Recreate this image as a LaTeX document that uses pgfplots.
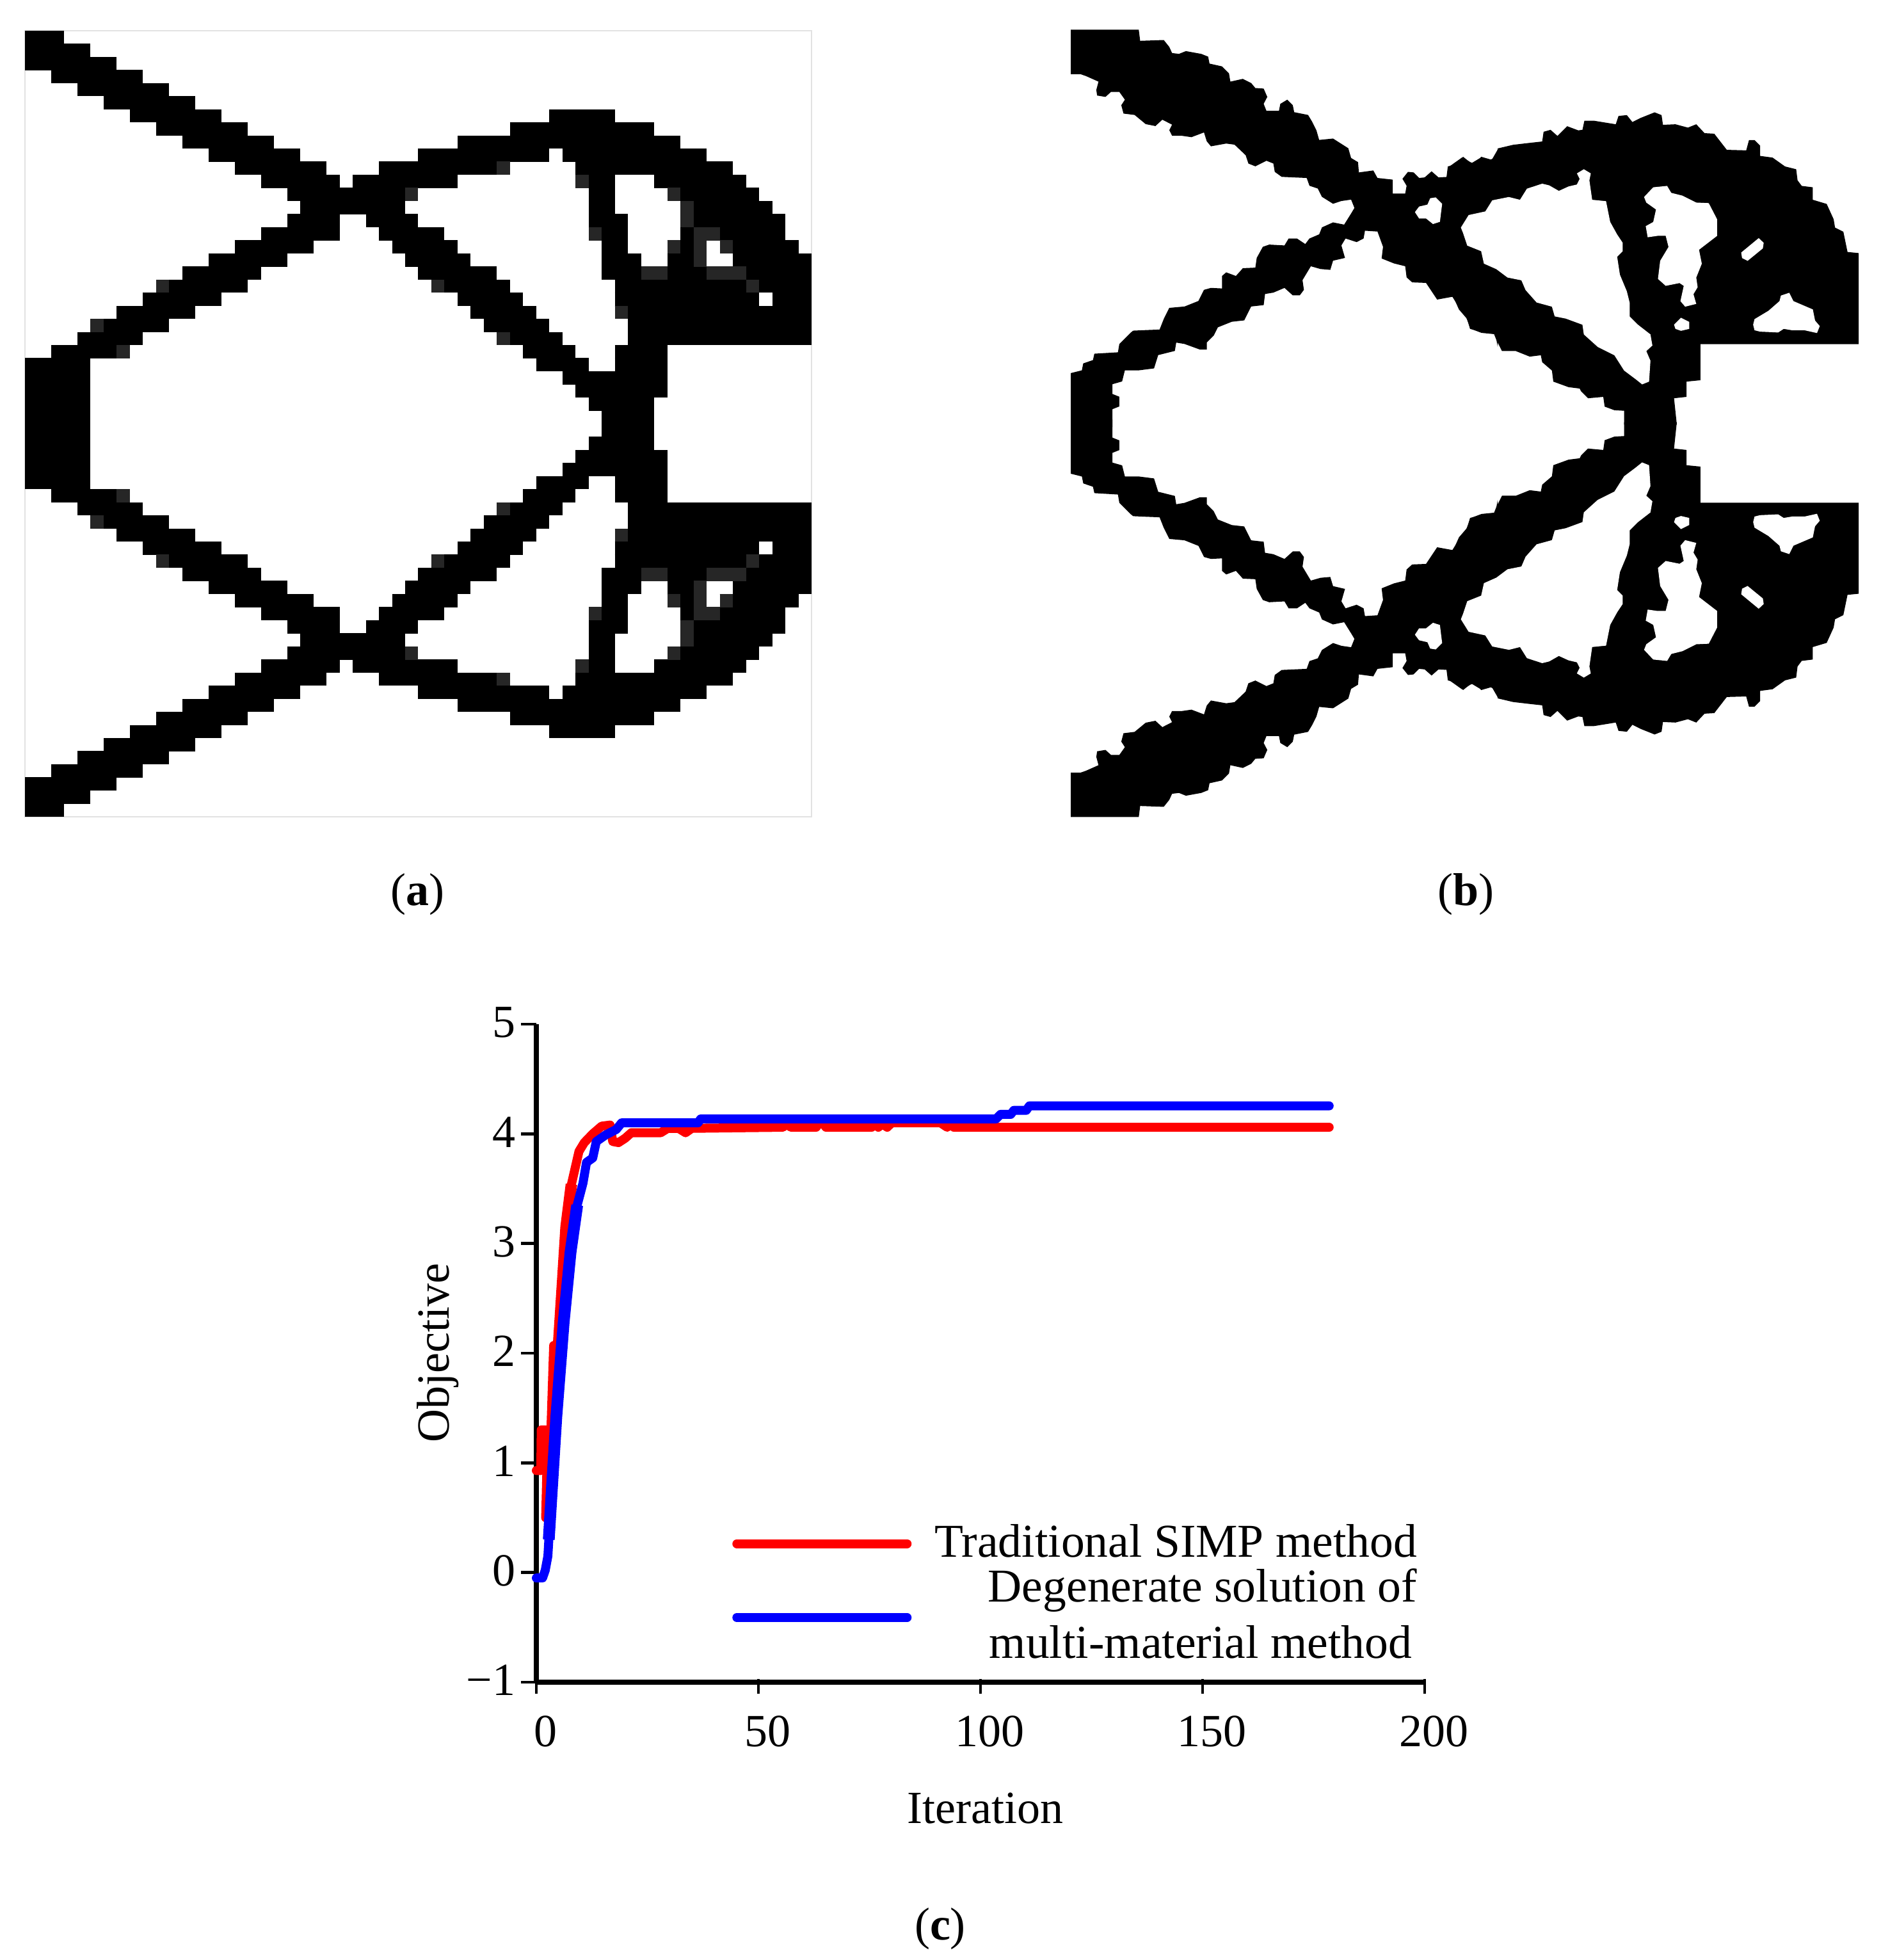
\documentclass[border=0pt]{standalone}
\usepackage{fontspec}
\setmainfont{Liberation Serif}
\usepackage{pgfplots}
\usepackage{pgfplotstable}
\pgfplotsset{compat=1.18}
\definecolor{framegray}{HTML}{E2E2E2}

% Panel (a): runs of black cells per row of the 60 x 60 grid (top half; the bottom half mirrors it)
\pgfplotstableread[row sep=\\]{
x y\\
0 .5\\3 .5\\nan .5\\
0 1.5\\5 1.5\\nan 1.5\\
0 2.5\\7 2.5\\nan 2.5\\
2 3.5\\9 3.5\\nan 3.5\\
4 4.5\\11 4.5\\nan 4.5\\
6 5.5\\13 5.5\\nan 5.5\\
8 6.5\\15 6.5\\nan 6.5\\
40 6.5\\45 6.5\\nan 6.5\\
10 7.5\\17 7.5\\nan 7.5\\
37 7.5\\48 7.5\\nan 7.5\\
12 8.5\\19 8.5\\nan 8.5\\
33 8.5\\50 8.5\\nan 8.5\\
14 9.5\\21 9.5\\nan 9.5\\
30 9.5\\40 9.5\\nan 9.5\\
41 9.5\\52 9.5\\nan 9.5\\
16 10.5\\23 10.5\\nan 10.5\\
27 10.5\\37 10.5\\nan 10.5\\
42 10.5\\54 10.5\\nan 10.5\\
18 11.5\\24 11.5\\nan 11.5\\
25 11.5\\33 11.5\\nan 11.5\\
42 11.5\\45 11.5\\nan 11.5\\
48 11.5\\55 11.5\\nan 11.5\\
20 12.5\\30 12.5\\nan 12.5\\
43 12.5\\45 12.5\\nan 12.5\\
49 12.5\\56 12.5\\nan 12.5\\
21 13.5\\29 13.5\\nan 13.5\\
43 13.5\\45 13.5\\nan 13.5\\
50 13.5\\57 13.5\\nan 13.5\\
20 14.5\\24 14.5\\nan 14.5\\
26 14.5\\30 14.5\\nan 14.5\\
43 14.5\\46 14.5\\nan 14.5\\
50 14.5\\58 14.5\\nan 14.5\\
18 15.5\\24 15.5\\nan 15.5\\
27 15.5\\32 15.5\\nan 15.5\\
43 15.5\\46 15.5\\nan 15.5\\
50 15.5\\58 15.5\\nan 15.5\\
16 16.5\\22 16.5\\nan 16.5\\
28 16.5\\33 16.5\\nan 16.5\\
44 16.5\\46 16.5\\nan 16.5\\
49 16.5\\52 16.5\\nan 16.5\\
53 16.5\\59 16.5\\nan 16.5\\
14 17.5\\20 17.5\\nan 17.5\\
29 17.5\\34 17.5\\nan 17.5\\
44 17.5\\47 17.5\\nan 17.5\\
49 17.5\\52 17.5\\nan 17.5\\
54 17.5\\60 17.5\\nan 17.5\\
12 18.5\\18 18.5\\nan 18.5\\
30 18.5\\36 18.5\\nan 18.5\\
44 18.5\\60 18.5\\nan 18.5\\
10 19.5\\17 19.5\\nan 19.5\\
31 19.5\\37 19.5\\nan 19.5\\
45 19.5\\60 19.5\\nan 19.5\\
9 20.5\\15 20.5\\nan 20.5\\
33 20.5\\38 20.5\\nan 20.5\\
45 20.5\\56 20.5\\nan 20.5\\
57 20.5\\60 20.5\\nan 20.5\\
7 21.5\\13 21.5\\nan 21.5\\
34 21.5\\39 21.5\\nan 21.5\\
45 21.5\\60 21.5\\nan 21.5\\
5 22.5\\11 22.5\\nan 22.5\\
35 22.5\\40 22.5\\nan 22.5\\
46 22.5\\60 22.5\\nan 22.5\\
4 23.5\\9 23.5\\nan 23.5\\
36 23.5\\41 23.5\\nan 23.5\\
46 23.5\\60 23.5\\nan 23.5\\
2 24.5\\8 24.5\\nan 24.5\\
38 24.5\\42 24.5\\nan 24.5\\
45 24.5\\49 24.5\\nan 24.5\\
0 25.5\\5 25.5\\nan 25.5\\
39 25.5\\43 25.5\\nan 25.5\\
45 25.5\\49 25.5\\nan 25.5\\
0 26.5\\5 26.5\\nan 26.5\\
41 26.5\\49 26.5\\nan 26.5\\
0 27.5\\5 27.5\\nan 27.5\\
42 27.5\\49 27.5\\nan 27.5\\
0 28.5\\5 28.5\\nan 28.5\\
43 28.5\\48 28.5\\nan 28.5\\
0 29.5\\5 29.5\\nan 29.5\\
44 29.5\\48 29.5\\nan 29.5\\
}\cellsA
\pgfplotstableread[row sep=\\]{
x y\\
36 10.5\\37 10.5\\nan 10.5\\
42 11.5\\43 11.5\\nan 11.5\\
29 12.5\\30 12.5\\nan 12.5\\
49 12.5\\50 12.5\\nan 12.5\\
50 13.5\\51 13.5\\nan 13.5\\
50 14.5\\51 14.5\\nan 14.5\\
43 15.5\\44 15.5\\nan 15.5\\
51 15.5\\53 15.5\\nan 15.5\\
49 16.5\\50 16.5\\nan 16.5\\
51 16.5\\52 16.5\\nan 16.5\\
53 16.5\\54 16.5\\nan 16.5\\
51 17.5\\52 17.5\\nan 17.5\\
47 18.5\\49 18.5\\nan 18.5\\
52 18.5\\55 18.5\\nan 18.5\\
10 19.5\\11 19.5\\nan 19.5\\
31 19.5\\32 19.5\\nan 19.5\\
55 19.5\\56 19.5\\nan 19.5\\
45 21.5\\46 21.5\\nan 21.5\\
5 22.5\\6 22.5\\nan 22.5\\
36 23.5\\37 23.5\\nan 23.5\\
7 24.5\\8 24.5\\nan 24.5\\
}\cellsGray

% Panel (b), digitised outline in image coordinates
\newcommand\cropLeft{%
\addplot[fill=black,draw=none] coordinates {
(30,38)(275,38)(280,78)(365,75)(385,100)(395,122)(420,125)(445,115)(500,125)(525,135)(530,160)(575,170)(600,195)(605,225)(650,215)(680,230)(695,248)(725,250)(738,280)(725,305)(735,330)(780,330)(785,305)(810,290)(830,310)(835,335)(885,345)(900,370)(915,400)(925,435)(975,430)(1030,465)(1040,500)(1065,515)(1068,552)(1120,545)(1135,572)(1190,578)(1190,628)(1235,628)(1240,600)(1225,575)(1245,550)(1265,552)(1285,572)(1305,570)(1330,548)(1355,570)(1390,568)(1395,530)(1440,498)(1475,518)(1510,497)(1545,510)(1568,470)
(1568,650)(1530,695)(1490,695)(1465,705)(1435,745)(1450,810)(1500,825)(1515,880)(1568,915)(1568,1180)
(1560,1135)(1510,1130)(1470,1115)(1455,1075)(1430,1040)(1405,1000)(1350,1010)(1310,950)(1260,948)(1240,930)(1235,890)(1195,880)(1150,862)(1155,820)(1135,765)(1090,762)(1085,790)(1060,803)(1020,790)(1005,815)(1018,860)(975,870)(965,903)(930,900)(895,890)(865,940)(870,975)(855,995)(830,995)(800,968)(760,985)(730,990)(725,1030)(680,1035)(655,1085)(610,1090)(560,1110)(545,1140)(520,1165)(520,1190)(495,1190)(440,1170)(410,1165)(405,1195)(345,1210)(330,1258)(275,1265)(225,1265)(215,1305)(180,1315)(180,1350)(205,1360)(205,1395)(180,1405)(180,1470)(30,1470)
(30,1275)(70,1265)(75,1240)(110,1228)(115,1205)(200,1200)(205,1170)(245,1130)(255,1122)(300,1120)(350,1118)(365,1080)(385,1040)(440,1035)(490,1015)(510,975)(535,968)(575,970)(575,925)(590,912)(625,925)(650,897)(695,895)(700,860)(722,820)(745,812)(800,815)(815,790)(845,790)(875,810)(890,790)(925,775)(935,750)(975,732)(1015,740)(1040,700)(1052,680)(1040,650)(1005,655)(975,665)(935,640)(920,610)(890,600)(880,572)(835,570)(790,568)(765,550)(760,520)(735,510)(695,530)(670,520)(660,490)(620,452)(590,448)(535,458)(520,440)(510,408)(465,425)(430,420)(395,420)(385,400)(395,380)(360,362)(335,385)(300,378)(260,345)(220,340)(212,310)(225,290)(205,262)(175,262)(155,280)(125,275)(122,255)(130,225)(85,205)(65,198)(30,198)
} --cycle;
\addplot[fill=white,draw=none] coordinates {
(1270,695)(1285,675)(1315,668)(1325,645)(1345,642)(1368,665)(1360,730)(1335,738)(1310,718)(1285,718)
} --cycle;
}
\newcommand\cropRight{%
\addplot[fill=black,draw=none] coordinates {
(0,340)(5,300)(40,290)(60,265)(85,285)(105,290)(125,265)(160,275)(180,265)(185,235)(240,222)(300,215)(345,210)(350,175)(375,168)(400,190)(435,155)(475,170)(490,168)(497,135)(530,135)(610,148)(620,118)(650,115)(670,140)(700,125)(750,105)(775,115)(780,150)(825,148)(870,160)(900,148)(930,180)(965,182)(1010,240)(1080,242)(1090,205)(1110,205)(1130,225)(1130,262)(1175,268)(1220,300)(1260,310)(1265,350)(1280,370)(1320,375)(1320,420)(1370,435)(1395,490)(1400,520)(1430,535)(1445,608)(1485,612)(1485,940)(915,940)(915,1070)(865,1075)(865,1130)(820,1135)(830,1230)
(640,1230)(640,1180)(605,1178)(570,1165)(565,1130)(510,1135)(485,1110)(480,1100)(440,1095)(385,1075)(380,1035)(345,1005)(340,980)(300,985)(250,965)(200,965)(180,925)(170,900)(125,895)(85,885)(75,850)(45,815)(25,770)(0,765)
} --cycle;
\addplot[fill=white,draw=none] coordinates {
(52,520)(80,475)(140,462)(165,422)(225,410)(265,420)(290,380)(345,362)(370,368)(405,388)(440,372)(470,365)(480,345)(470,325)(495,310)(520,325)(515,350)(525,420)(575,425)(590,500)(615,545)(635,575)(635,605)(615,625)(625,690)(650,750)(660,790)(660,840)(690,870)(735,905)(742,945)(720,965)(735,1000)(730,1075)(705,1085)(680,1065)(640,1035)(605,980)(545,950)(495,905)(490,870)(430,848)(390,840)(380,805)(325,790)(285,745)(270,710)(220,700)(180,670)(135,650)(125,605)(75,585)(60,540)
} --cycle;
\addplot[fill=white,draw=none] coordinates {
(712,410)(745,375)(795,370)(810,395)(850,405)(900,430)(945,432)(975,490)(975,550)(910,600)(920,650)(900,700)(905,735)(890,760)(900,795)(860,805)(843,785)(855,730)(840,720)(790,730)(762,705)(770,640)(800,590)(790,550)(760,550)(725,555)(718,515)(745,500)(755,455)(720,430)
} --cycle;
\addplot[fill=white,draw=none] coordinates {(820,870)(845,845)(875,860)(875,885)(845,892)(825,885)} --cycle;
\addplot[fill=white,draw=none] coordinates {(1062,610)(1125,558)(1143,575)(1140,595)(1085,640)(1065,630)} --cycle;
\addplot[fill=white,draw=none] coordinates {
(1105,870)(1110,850)(1160,820)(1200,785)(1205,765)(1235,755)(1250,785)(1320,815)(1328,855)(1345,875)(1335,900)(1290,890)(1245,890)(1215,885)(1195,898)(1130,895)(1110,890)
} --cycle;
}

\pgfplotsset{
  imgaxis/.style={scale only axis,width=170pt,height=170pt,xmin=0,xmax=1568,ymin=0,ymax=1568,hide axis,anchor=south west},
  cellrun/.style={draw=#1,mark=none,line width=5.2pt,line cap=butt,unbounded coords=jump},
}

\begin{document}
\fontsize{18}{22}\selectfont
\begin{tikzpicture}[x=1pt,y=1pt]
\path[use as bounding box] (0,0) rectangle (734.75,765.5);

% (a)
\begin{axis}[at={(9.75pt,446.5pt)},anchor=south west,scale only axis,width=307.25pt,height=307pt,
  xmin=0,xmax=60,ymin=0,ymax=60,ticks=none,axis line style={draw=framegray,line width=0.6pt}]
\addplot[cellrun=black] table[x=x,y expr=60-\thisrow{y}] {\cellsA};
\addplot[cellrun=black] table[x=x,y=y] {\cellsA};
\addplot[cellrun={black!85}] table[x=x,y expr=60-\thisrow{y}] {\cellsGray};
\addplot[cellrun={black!85}] table[x=x,y=y] {\cellsGray};
\end{axis}

% (b)
\begin{axis}[imgaxis,at={(415pt,588pt)},y dir=reverse]\cropLeft\end{axis}
\begin{axis}[imgaxis,at={(415pt,442.25pt)}]\cropLeft\end{axis}
\begin{axis}[imgaxis,at={(565pt,563pt)},y dir=reverse]\cropRight\end{axis}
\begin{axis}[imgaxis,at={(565pt,467.25pt)}]\cropRight\end{axis}

% (c)
\begin{axis}[at={(209.5pt,108.5pt)},anchor=south west,scale only axis,width=347pt,height=257pt,
  xmin=0,xmax=200,ymin=-1,ymax=5,
  axis x line=bottom,axis y line=left,axis line style={-,line width=1.9pt,black},
  xtick={0,50,100,150,200},xticklabels={0,50,100,150,200},
  ytick={-1,0,1,2,3,4,5},yticklabels={−1,0,1,2,3,4,5},
  tick align=outside,major tick length=5.9pt,
  x tick style={black,line width=1.1pt,yshift=1.3pt},
  y tick style={black,line width=1.1pt},
  x tick label style={font=\fontsize{18}{20}\selectfont,xshift=3.5pt,yshift=-1pt},
  y tick label style={font=\fontsize{18}{20}\selectfont,xshift=4pt,yshift=0.75pt},
  xlabel={Iteration},ylabel={Objective},
  label style={font=\fontsize{18.4}{22}\selectfont},
  every axis x label/.style={at={(axis description cs:0.5051,-0.1917)},anchor=center},
  every axis y label/.style={at={(axis description cs:-0.111,0.5007)},anchor=center,rotate=90},
  legend style={at={(axis cs:198.4,0.446)},anchor=north east,draw=none,fill=none,inner sep=0pt,
    row sep=2pt,nodes={inner sep=0pt},font=\fontsize{18.4}{22}\selectfont,
    /tikz/every odd column/.append style={column sep=9pt}},
  legend cell align=right,
  clip=false,
]
\addplot[red,line width=3.5pt,line cap=round,line join=round,
  legend image code/.code={\draw[red,line width=3.5pt,line cap=round] (0pt,0.1pt) -- (66.5pt,0.1pt);}]
  coordinates {(0,0.93)(1,0.93)(1.1,1.3)(2.6,1.3)(2.1,0.5)(3.2,1.2)(3.9,2.07)(5,2.07)(6,2.7)(6.7,3.15)(7.9,3.54)(9.6,3.84)(10.8,3.92)(12.7,4.0)(14.7,4.07)(16.6,4.08)(17.2,3.93)(18.5,3.92)(20,3.96)(21.4,4.01)(28,4.01)(29.6,4.05)(32,4.05)(33.6,4.01)(35,4.05)(55.5,4.06)(56.4,4.09)(57.3,4.06)(63,4.06)(64.1,4.12)(65.2,4.06)(75.5,4.06)(76.2,4.09)(77,4.06)(77.9,4.09)(79,4.06)(80,4.1)(91,4.1)(92.5,4.06)(93.3,4.09)(94,4.06)(178.5,4.06)};
\addlegendentry{Traditional SIMP method}
\addplot[red,line width=4.5pt,line cap=butt,line join=round,forget plot]
  coordinates {(5,2.07)(6,2.7)(6.7,3.15)(7.9,3.54)};
\addplot[blue,line width=3.5pt,line cap=round,line join=round,
  legend image code/.code={\draw[blue,line width=3.5pt,line cap=round] (0pt,-0.2pt) -- (66.5pt,-0.2pt);}]
  coordinates {(0,-0.05)(1.4,-0.05)(2,0.02)(2.6,0.15)(3.1,0.5)(4.5,1.42)(6.15,2.28)(7.7,2.92)(9.2,3.35)(10.5,3.55)(11.3,3.74)(12.7,3.78)(13.5,3.93)(15.6,3.99)(18,4.04)(19.2,4.1)(36.4,4.1)(37,4.136)(103.5,4.136)(104.5,4.177)(106.8,4.177)(107.5,4.214)(110.3,4.214)(111,4.255)(178.5,4.255)};
\addlegendentry[align=right]{Degenerate solution of\\multi-material method\hspace*{2pt}}
\addplot[blue,line width=4.6pt,line cap=butt,line join=round,forget plot]
  coordinates {(2.8,0.3)(3.1,0.5)(4.5,1.42)(6.15,2.28)(7.7,2.92)(9.2,3.35)};
\end{axis}

\node[anchor=center] at (163,416.25) {(\textbf{a})};
\node[anchor=center] at (572.5,416.25) {(\textbf{b})};
\node[anchor=center] at (367.25,12.25) {(\textbf{c})};
\end{tikzpicture}
\end{document}
